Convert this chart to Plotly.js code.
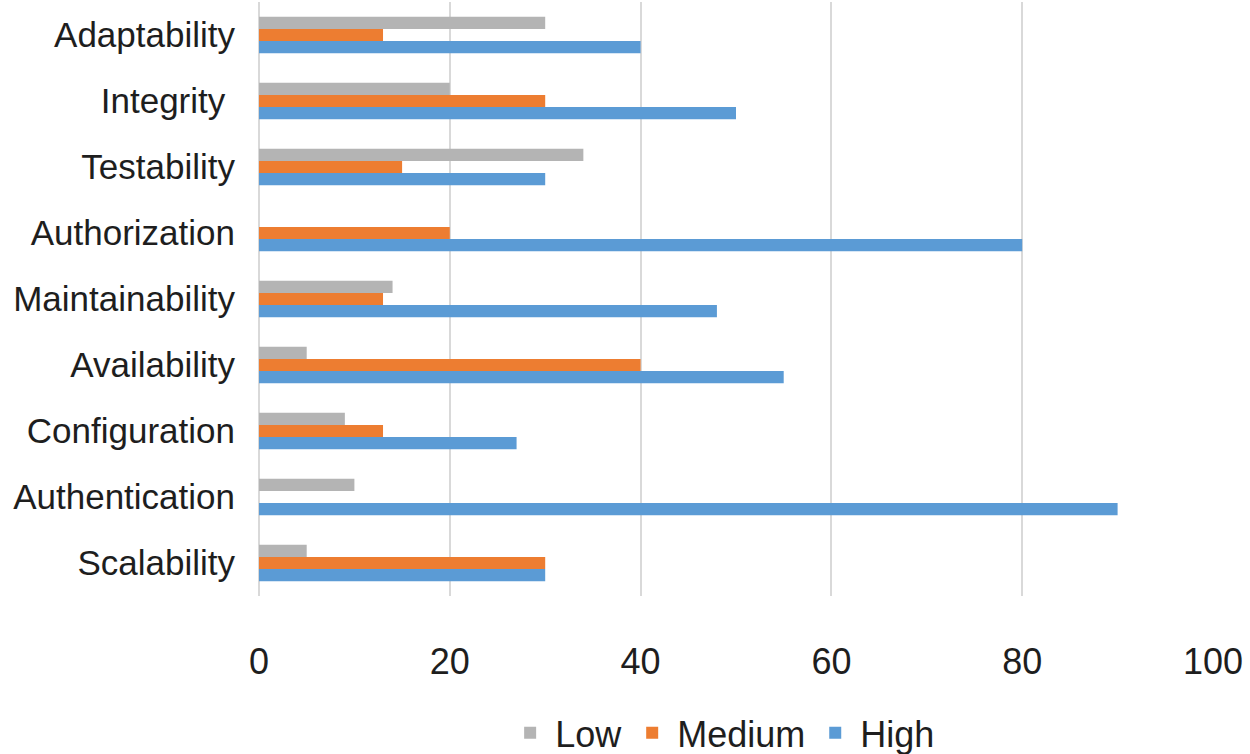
<!DOCTYPE html>
<html>
<head>
<meta charset="utf-8">
<script src="https://cdn.plot.ly/plotly-3.0.1.min.js"></script>
<style>html,body{margin:0;padding:0;background:#fff;}#chart{width:1250px;height:754px;}</style>
</head>
<body>
<div id="chart"></div>
<script>
var categories = ["Scalability", "Authentication", "Configuration", "Availability", "Maintainability", "Authorization", "Testability", "Integrity ", "Adaptability"];
var lowValues = [5, 10, 9, 5, 14, 0, 34, 20, 30];
var mediumValues = [30, 0, 13, 40, 13, 20, 15, 30, 13];
var highValues = [30, 90, 27, 55, 48, 80, 30, 50, 40];
var xTicks = [0, 20, 40, 60, 80, 100];

var font = "'Liberation Sans', Arial, sans-serif";
var traces = [
  {type: "bar", orientation: "h", name: "High", y: categories, x: highValues, marker: {color: "#5b9bd5"}},
  {type: "bar", orientation: "h", name: "Medium", y: categories, x: mediumValues, marker: {color: "#ed7d31"}},
  {type: "bar", orientation: "h", name: "Low", y: categories, x: lowValues, marker: {color: "#b4b4b4"}}
];
var layout = {
  width: 1250, height: 754,
  margin: {l: 259, r: 37, t: 2, b: 158, autoexpand: false},
  paper_bgcolor: "#fff", plot_bgcolor: "#fff",
  barmode: "group", bargap: 0.45, bargroupgap: 0,
  font: {family: font, size: 36, color: "#1e1e1e"},
  xaxis: {
    range: [0, 100], tickvals: xTicks, ticktext: xTicks.map(String),
    showgrid: true, gridcolor: "#d9d9d9", gridwidth: 2,
    zeroline: true, zerolinecolor: "#d9d9d9", zerolinewidth: 2,
    showline: false, ticks: "", ticklabelstandoff: 41, automargin: false,
    tickfont: {family: font, size: 36, color: "#1e1e1e"}
  },
  yaxis: {
    type: "category", categoryorder: "array", categoryarray: categories,
    showgrid: false, zeroline: false, showline: false, ticks: "",
    ticklabelstandoff: 23, automargin: false,
    tickfont: {family: font, size: 35, color: "#1e1e1e"}
  },
  showlegend: true,
  legend: {
    orientation: "h", traceorder: "reversed",
    x: 0.486, xanchor: "center", yref: "container", y: 0.028, yanchor: "middle",
    font: {family: font, size: 36, color: "#1e1e1e"},
    itemwidth: 40
  }
};
Plotly.newPlot("chart", traces, layout, {displayModeBar: false, staticPlot: true});
</script>
</body>
</html>
